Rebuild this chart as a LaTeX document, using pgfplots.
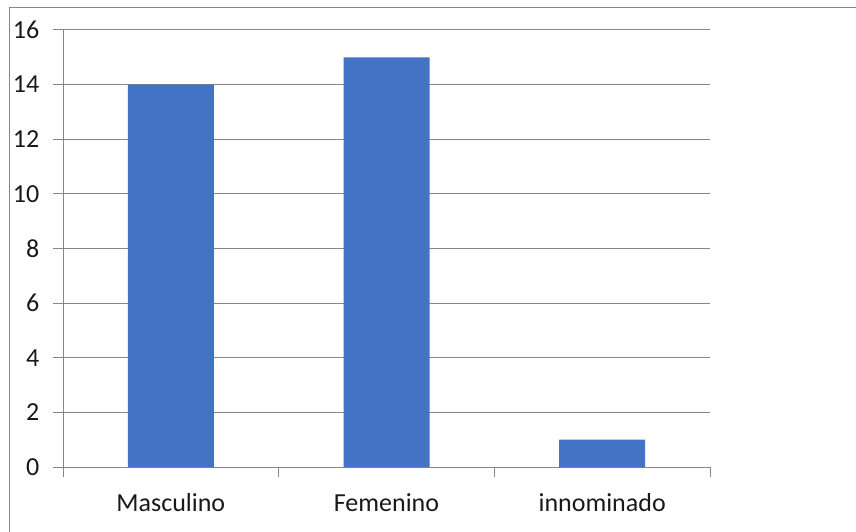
\documentclass[border=0pt]{standalone}
\usepackage{pgfplots}
\pgfplotsset{compat=1.18}
\usepackage{fontspec}
\setmainfont{Carlito}
\definecolor{barblue}{RGB}{68,114,196}
\definecolor{gridgray}{RGB}{134,134,134}
\definecolor{labeltext}{RGB}{25,25,25}
\begin{document}
\begin{tikzpicture}[x=1pt,y=1pt]
\useasboundingbox (0,0) rectangle (856,531);
% outer chart frame
\draw[gridgray, line width=1pt] (9,-20) -- (9,523) -- (880,523);
\begin{axis}[
  at={(63pt,64pt)}, anchor=south west,
  scale only axis, width=647pt, height=437pt,
  xmin=-0.5, xmax=2.5, ymin=0, ymax=16,
  axis x line*=bottom, axis y line*=left,
  axis line style={gridgray, line width=1pt, -},
  ytick={0,2,...,16},
  ymajorgrids, grid style={gridgray, line width=1pt},
  tick align=outside,
  xtick align=outside, ytick align=outside,
  major tick length=9.5pt,
  tick style={gridgray, line width=1pt},
  % category boundaries carry the tick marks
  xtick={-0.5,0.5,1.5,2.5},
  xticklabels={},
  % category names sit at the bar centres, without marks
  extra x ticks={0,1,2},
  extra x tick labels={Masculino, Femenino, innominado},
  extra x tick style={major tick length=0pt, grid=none},
  /pgf/number format/assume math mode=true,
  ticklabel style={font=\fontsize{26}{31}\selectfont, text=labeltext},
  yticklabel style={anchor=east, inner sep=0pt, xshift=-14pt},
  xticklabel style={anchor=north, inner sep=0pt, yshift=-26pt},
]
\addplot[ybar, bar width=86pt, fill=barblue, draw=none] coordinates {(0,14) (1,15) (2,1)};
\end{axis}
\end{tikzpicture}
\end{document}
